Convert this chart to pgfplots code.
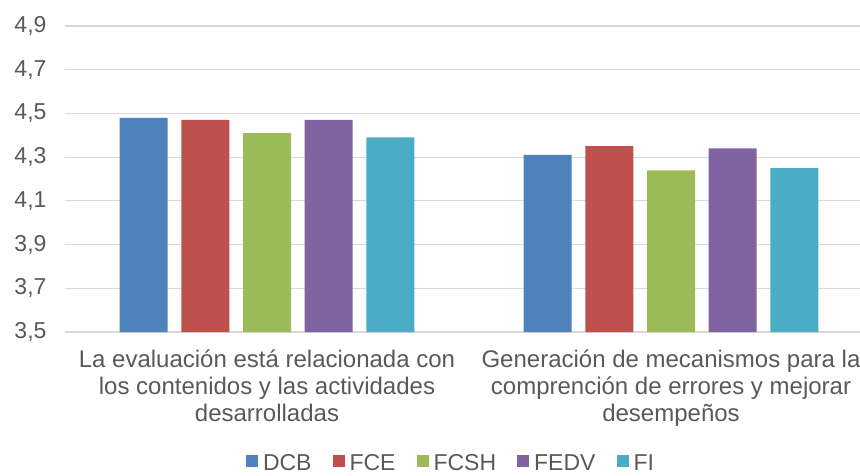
\documentclass[border=0pt]{standalone}
\usepackage{pgfplots}
\pgfplotsset{compat=1.18}
\usepackage{fontspec}
\setmainfont{Liberation Sans}
\definecolor{cDCB}{HTML}{4F81BD}
\definecolor{cFCE}{HTML}{C0504D}
\definecolor{cFCSH}{HTML}{9BBB59}
\definecolor{cFEDV}{HTML}{8064A2}
\definecolor{cFI}{HTML}{4BACC6}
\definecolor{txt}{HTML}{595959}
\definecolor{grd}{HTML}{D9D9D9}
\begin{document}
\begin{tikzpicture}
\useasboundingbox (0,0) rectangle (860pt,475pt);
\begin{axis}[
    at={(65pt,143pt)}, anchor=south west,
    scale only axis,
    width=808pt, height=306pt,
    ybar=13.7pt, bar width=48pt,
    ymin=3.5, ymax=4.9,
    ytick={3.5,3.7,...,4.91},
    xmin=-0.5, xmax=1.5,
    xtick={0,1},
    xticklabels={{La evaluación está relacionada con\\los contenidos y las actividades\\desarrolladas},
                 {Generación de mecanismos para la\\comprención de errores y mejorar\\desempeños}},
    xticklabel style={align=center, font=\fontsize{24}{27}\selectfont, text=txt, yshift=-14pt},
    yticklabel style={font=\fontsize{23}{27}\selectfont, text=txt, xshift=-15pt},
    /pgf/number format/assume math mode=true,
    /pgf/number format/.cd, use comma, fixed, fixed zerofill, precision=1, /pgfplots/.cd,
    axis line style={draw=none},
    ymajorgrids, grid style={grd, line width=1.2pt},
    major tick length=0pt,
    legend style={at={(0.4777,-0.428)}, anchor=center, draw=none, fill=none,
        legend columns=5, font=\fontsize{23}{27}\selectfont, text=txt,
        inner sep=0pt,
        /tikz/every even column/.append style={column sep=19pt}},
    legend cell align=left,
    legend image code/.code={\fill[#1] (0pt,-4pt) rectangle (12pt,8pt); \path (15pt,0pt);},
    clip=false,
]
\addplot[fill=cDCB, draw=none] coordinates {(0,4.48) (1,4.31)};
\addplot[fill=cFCE, draw=none] coordinates {(0,4.47) (1,4.35)};
\addplot[fill=cFCSH, draw=none] coordinates {(0,4.41) (1,4.24)};
\addplot[fill=cFEDV, draw=none] coordinates {(0,4.47) (1,4.34)};
\addplot[fill=cFI, draw=none] coordinates {(0,4.39) (1,4.25)};
\legend{DCB,FCE,FCSH,FEDV,FI}
\end{axis}
\end{tikzpicture}
\end{document}
